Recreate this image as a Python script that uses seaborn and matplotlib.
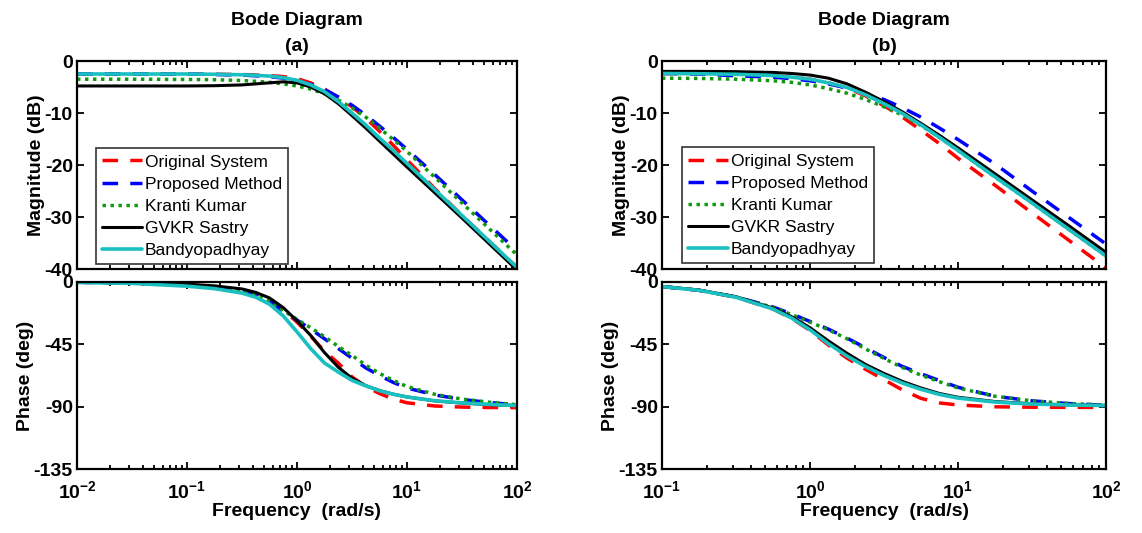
import matplotlib
matplotlib.use('Agg')
import matplotlib.pyplot as plt
import seaborn as sns
from matplotlib.ticker import FixedLocator, LogLocator, NullFormatter

# ---------------- data ----------------
series_names = ['Original System', 'Proposed Method', 'Kranti Kumar',
                'GVKR Sastry', 'Bandyopadhyay']

# panel (a) sample frequencies (rad/s)
freq_a = [0.01, 0.0316, 0.1, 0.178, 0.316, 0.422, 0.562, 0.75, 1.0, 1.33,
          1.78, 2.37, 3.16, 4.22, 5.62, 7.5, 10.0, 17.8, 31.6, 56.2, 100.0]

mag_a_orig = [-2.5, -2.5, -2.5, -2.55, -2.6, -2.7, -2.8, -3.0, -3.4, -4.2, -5.4,
              -7.0, -8.8, -11.0, -13.5, -16.2, -19.0, -24.5, -29.7, -34.7, -39.7]
mag_a_prop = [-2.5, -2.5, -2.5, -2.6, -2.7, -2.85, -3.0, -3.3, -3.8, -4.5, -5.5,
              -6.9, -8.5, -10.4, -12.5, -14.7, -17.0, -21.8, -26.7, -31.6, -36.5]
mag_a_kk = [-3.5, -3.5, -3.55, -3.6, -3.75, -3.9, -4.1, -4.4, -4.8, -5.4, -6.3,
            -7.5, -9.0, -10.8, -12.9, -15.1, -17.4, -22.3, -27.3, -32.3, -37.3]
mag_a_gvkr = [-4.8, -4.8, -4.8, -4.75, -4.6, -4.4, -4.2, -4.0, -4.2, -5.0, -6.3,
              -8.2, -10.5, -12.9, -15.4, -17.9, -20.4, -25.3, -30.2, -35.2, -40.2]
mag_a_band = [-2.5, -2.5, -2.5, -2.55, -2.65, -2.75, -2.9, -3.2, -3.7, -4.6, -5.9,
              -7.8, -10.0, -12.3, -14.8, -17.2, -19.7, -24.7, -29.7, -34.7, -39.7]

ph_a_orig = [-0.2, -0.7, -2.2, -3.8, -6.5, -9.0, -13.0, -20.0, -29.0, -39.0, -50.0,
             -58.5, -68.5, -75.5, -80.5, -84.5, -87.2, -89.5, -90.3, -90.6, -90.7]
ph_a_prop = [-0.2, -0.7, -2.2, -3.8, -7.0, -10.0, -14.5, -21.0, -27.5, -34.0, -41.0,
             -48.0, -55.0, -62.0, -67.5, -72.5, -76.5, -81.5, -84.8, -87.0, -88.8]
ph_a_kk = [-0.2, -0.7, -2.2, -3.8, -6.8, -9.5, -14.0, -20.5, -27.0, -33.0, -39.5,
           -46.5, -53.0, -60.0, -66.0, -71.0, -75.5, -81.0, -84.5, -86.8, -88.6]
ph_a_gvkr = [-0.2, -0.5, -1.5, -2.8, -5.0, -7.5, -11.5, -18.5, -28.0, -38.5, -51.0,
             -61.5, -69.5, -74.8, -78.3, -81.0, -83.0, -85.8, -87.4, -88.5, -89.2]
ph_a_band = [-0.3, -1.0, -3.0, -4.8, -8.0, -11.0, -16.0, -24.5, -36.0, -48.0, -58.5,
             -65.0, -71.0, -75.0, -78.5, -81.0, -83.0, -85.7, -87.3, -88.4, -89.2]

# panel (b) sample frequencies (rad/s)
freq_b = [0.1, 0.178, 0.316, 0.562, 0.75, 1.0, 1.33, 1.78, 2.37, 3.16, 4.22,
          5.62, 7.5, 10.0, 17.8, 31.6, 56.2, 100.0]

mag_b_orig = [-2.4, -2.45, -2.55, -2.8, -3.1, -3.5, -4.2, -5.2, -6.7, -8.6, -10.8,
              -13.3, -15.9, -18.7, -23.9, -29.2, -34.5, -39.8]
mag_b_prop = [-2.4, -2.5, -2.85, -3.1, -3.4, -3.8, -4.4, -5.2, -6.2, -7.4, -9.0,
              -10.8, -12.9, -15.1, -19.8, -25.0, -30.1, -35.2]
mag_b_kk = [-3.3, -3.35, -3.5, -3.8, -4.1, -4.6, -5.3, -6.2, -7.4, -8.8, -10.4,
            -12.4, -14.7, -17.2, -22.3, -27.3, -32.4, -37.5]
mag_b_gvkr = [-2.0, -2.0, -2.05, -2.2, -2.4, -2.7, -3.3, -4.4, -6.0, -7.8, -9.8,
              -12.0, -14.3, -16.7, -21.7, -26.7, -31.7, -36.8]
mag_b_band = [-2.4, -2.45, -2.55, -2.8, -3.1, -3.5, -4.2, -5.1, -6.5, -8.2, -10.1,
              -12.3, -14.7, -17.2, -22.3, -27.3, -32.4, -37.5]

ph_b_orig = [-3.3, -6.0, -11.0, -19.5, -26.2, -35.0, -45.5, -55.0, -63.0, -70.5,
             -78.0, -84.0, -87.3, -88.8, -90.1, -90.4, -90.5, -90.5]
ph_b_prop = [-3.3, -6.0, -10.8, -18.0, -23.0, -28.5, -34.0, -40.5, -47.5, -54.5,
             -61.0, -66.2, -71.2, -76.0, -82.5, -85.8, -87.8, -89.0]
ph_b_kk = [-3.3, -6.0, -10.8, -18.3, -23.5, -29.0, -34.5, -41.0, -48.3, -55.2,
           -61.8, -67.2, -72.0, -76.5, -82.5, -85.8, -87.7, -88.8]
ph_b_gvkr = [-3.2, -5.8, -10.6, -18.8, -25.0, -33.0, -42.5, -51.5, -59.5, -66.0,
             -71.8, -76.5, -80.5, -83.2, -86.3, -87.9, -88.7, -89.1]
ph_b_band = [-3.3, -6.0, -11.0, -19.5, -26.0, -34.5, -44.5, -53.5, -61.0, -67.5,
             -73.0, -77.5, -81.2, -83.8, -86.7, -88.1, -88.8, -89.2]

# axis ticks / labels
xticks_a = [0.01, 0.1, 1, 10, 100]
xlabels_a = ['$10^{-2}$', '$10^{-1}$', '$10^{0}$', '$10^{1}$', '$10^{2}$']
xticks_b = [0.1, 1, 10, 100]
xlabels_b = ['$10^{-1}$', '$10^{0}$', '$10^{1}$', '$10^{2}$']
mag_ticks = [0, -10, -20, -30, -40]
mag_labels = ['0', '-10', '-20', '-30', '-40']
ph_ticks = [0, -45, -90, -135]
ph_labels = ['0', '-45', '-90', '-135']
titles = ['Bode Diagram\n(a)', 'Bode Diagram\n(b)']

# ---------------- styling ----------------
sns.set_theme(style='white')
plt.rcParams['font.family'] = ['Liberation Sans', 'DejaVu Sans']
plt.rcParams.update({
    'mathtext.fontset': 'custom',
    'mathtext.rm': 'Liberation Sans',
    'mathtext.bf': 'Liberation Sans:bold',
    'mathtext.default': 'bf',
    'axes.unicode_minus': False,
    'text.color': 'black',
    'axes.labelcolor': 'black',
    'xtick.color': 'black',
    'ytick.color': 'black',
    'axes.edgecolor': 'black',
})

styles = [
    dict(color='#FF0000', lw=2.5, linestyle=(0, (4.5, 3.5))),
    dict(color='#0000FF', lw=2.5, linestyle=(0, (4.5, 3.5))),
    dict(color='#119A11', lw=2.5, linestyle=(0, (1, 1.3)), dash_capstyle='butt'),
    dict(color='#000000', lw=2.2, linestyle='-'),
    dict(color='#1ABFBF', lw=2.6, linestyle='-'),
]

W, H = 1142, 533
fig = plt.figure(figsize=(W / 100, H / 100), dpi=100)


def add_ax(x0, x1, y0, y1):
    return fig.add_axes([x0 / W, 1 - y1 / H, (x1 - x0) / W, (y1 - y0) / H])


panels = [
    dict(x=(77, 517), freq=freq_a, xt=xticks_a, xl=xlabels_a,
         mags=[mag_a_orig, mag_a_prop, mag_a_kk, mag_a_gvkr, mag_a_band],
         phs=[ph_a_orig, ph_a_prop, ph_a_kk, ph_a_gvkr, ph_a_band],
         leg=(0.043, 0.024)),
    dict(x=(662, 1106), freq=freq_b, xt=xticks_b, xl=xlabels_b,
         mags=[mag_b_orig, mag_b_prop, mag_b_kk, mag_b_gvkr, mag_b_band],
         phs=[ph_b_orig, ph_b_prop, ph_b_kk, ph_b_gvkr, ph_b_band],
         leg=(0.045, 0.028)),
]


def style_axis(ax, xt):
    ax.set_xscale('log')
    ax.set_xlim(xt[0], xt[-1])
    ax.xaxis.set_major_locator(FixedLocator(xt))
    ax.xaxis.set_minor_locator(LogLocator(base=10, subs=range(2, 10), numticks=50))
    ax.xaxis.set_minor_formatter(NullFormatter())
    ax.grid(False)
    for s in ax.spines.values():
        s.set_color('black')
        s.set_linewidth(1.6)
    ax.tick_params(which='both', direction='in', top=True, right=True,
                   bottom=True, left=True, color='black', width=1.3)
    ax.tick_params(which='major', length=5, pad=3)
    ax.tick_params(which='minor', length=3)


for i, p in enumerate(panels):
    axm = add_ax(p['x'][0], p['x'][1], 61, 269)
    axp = add_ax(p['x'][0], p['x'][1], 282, 469)
    for ax in (axm, axp):
        style_axis(ax, p['xt'])

    for name, vals, st in zip(series_names, p['mags'], styles):
        sns.lineplot(x=p['freq'], y=vals, ax=axm, label=name, **st)
    for name, vals, st in zip(series_names, p['phs'], styles):
        sns.lineplot(x=p['freq'], y=vals, ax=axp, **st)

    axm.set_ylim(-40, 0)
    axm.set_yticks(mag_ticks)
    axm.set_yticklabels(mag_labels, fontsize=14, fontweight='bold')
    axm.tick_params(labelbottom=False)
    axm.set_ylabel('Magnitude (dB)', fontsize=14, fontweight='bold', labelpad=0)
    axm.set_title(titles[i], fontsize=14, fontweight='bold', pad=7, linespacing=1.75)

    axp.set_ylim(-135, 0)
    axp.set_yticks(ph_ticks)
    axp.set_yticklabels(ph_labels, fontsize=14, fontweight='bold')
    axp.set_xticks(p['xt'])
    axp.set_xticklabels(p['xl'], fontsize=14)
    axp.tick_params(axis='x', which='major', pad=8)
    axp.set_ylabel('Phase (deg)', fontsize=14, fontweight='bold', labelpad=0)
    axp.set_xlabel('Frequency  (rad/s)', fontsize=14, fontweight='bold', labelpad=1)

    leg = axm.legend(handles=axm.get_lines()[:5], labels=series_names,
                     loc='lower left', bbox_to_anchor=p['leg'], borderaxespad=0,
                     fontsize=12.5, frameon=True, fancybox=False, framealpha=1,
                     edgecolor='#333333', handlelength=2.3, handletextpad=0.15,
                     labelspacing=0.4, borderpad=0.35)
    leg.get_frame().set_linewidth(1.2)

fig.savefig('out.png', dpi=100)
